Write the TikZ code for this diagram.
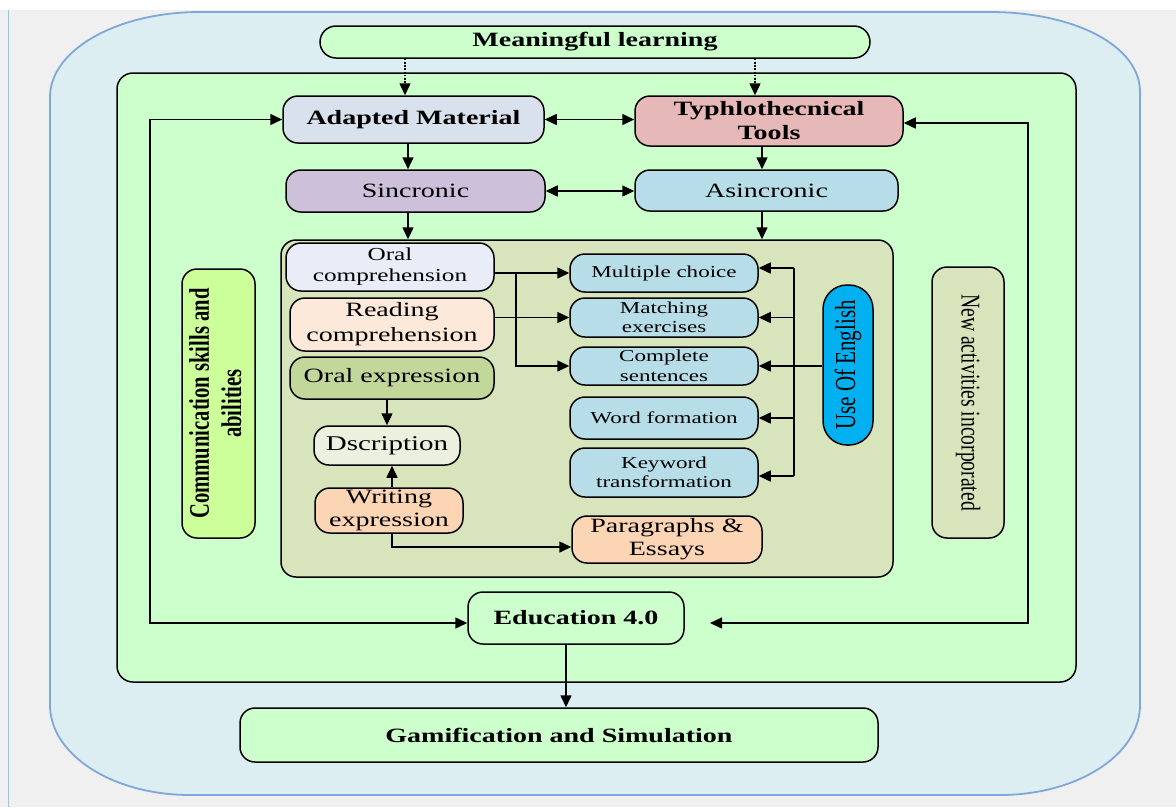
\documentclass[tikz,border=0pt]{standalone}
\usepackage{fontspec}
\setmainfont{Liberation Serif}[FakeStretch=1.38]
\newfontfamily\rotfont{Liberation Serif}
\usetikzlibrary{arrows.meta}
\definecolor{pagegray}{HTML}{F0F0F0}
\definecolor{outerfill}{HTML}{DDEEF3}
\definecolor{outerline}{HTML}{7FA7D9}
\definecolor{lgreen}{HTML}{CCFFCC}
\definecolor{amfill}{HTML}{D9E1EC}
\definecolor{ttfill}{HTML}{E6B9B8}
\definecolor{scfill}{HTML}{CCC0DA}
\definecolor{asfill}{HTML}{B7DEE8}
\definecolor{olive}{HTML}{D8E4BC}
\definecolor{ocfill}{HTML}{E8EDF7}
\definecolor{rcfill}{HTML}{FDE9D9}
\definecolor{oefill}{HTML}{C4D79B}
\definecolor{dsfill}{HTML}{EBF1DE}
\definecolor{wefill}{HTML}{FCD5B4}
\definecolor{uefill}{HTML}{00B0F0}
\definecolor{cmfill}{HTML}{CCFF99}
\begin{document}
\begin{tikzpicture}[x=1pt,y=-1pt,
  box/.style={draw=black, line width=1.5pt, rounded corners=15pt, align=center, inner sep=0pt,
    font=\fontsize{20.3}{24}\selectfont},
  bbox/.style={box, font=\fontsize{20.3}{24}\selectfont\bfseries},
  smallbox/.style={box, fill=asfill, font=\fontsize{16.7}{19.5}\selectfont},
  arr/.style={-{Triangle[length=12pt,width=11pt]}, line width=1.5pt},
  darr/.style={{Triangle[length=12pt,width=11pt]}-{Triangle[length=12pt,width=11pt]}, line width=1.5pt},
  dotarr/.style={arr, dash pattern=on 1.6pt off 1.6pt}]
\useasboundingbox (0,0) rectangle (1176,807);
% page
\fill[pagegray] (0,10) rectangle (1176,807);
\fill[white] (0,0) rectangle (1176,10);
\draw[outerline!70, line width=1pt] (8,10) -- (8,807);
% outer shape
\draw[fill=outerfill, draw=outerline, line width=1.8pt]
  (50,97) .. controls (50,50) and (117,12) .. (200,12)
  -- (990,12) .. controls (1073,12) and (1140,45) .. (1140,92)
  -- (1140,705) .. controls (1140,755) and (1077,795) .. (1000,795)
  -- (190,795) .. controls (113,795) and (50,755) .. (50,705) -- cycle;
% inner green
\draw[fill=lgreen, line width=1.5pt, rounded corners=16pt] (117,73) rectangle (1076,682);
% olive
\node[box, fill=olive, minimum width=612pt, minimum height=337pt] (ob) at (587,408.5) {};

\node[bbox, fill=lgreen, rounded corners=16pt, minimum width=550pt, minimum height=32pt] (ml) at (595,42) {Meaningful learning};
\node[bbox, fill=amfill, minimum width=261pt, minimum height=47pt] (am) at (413.5,119.5) {Adapted Material};
\node[bbox, fill=ttfill, minimum width=268pt, minimum height=50pt] (tt) at (769,121) {Typhlothecnical\\Tools};
\node[box, fill=scfill, minimum width=259pt, minimum height=42pt] (sc) at (415.5,191) {Sincronic};
\node[box, fill=asfill, minimum width=263pt, minimum height=41pt] (as) at (766.5,190.5) {Asincronic};

\node[box, fill=ocfill, minimum width=208pt, minimum height=48pt, font=\fontsize{18.3}{21}\selectfont] (oc) at (390,267) {Oral\\comprehension};
\node[box, fill=rcfill, minimum width=204pt, minimum height=53pt, font=\fontsize{20.3}{25}\selectfont] (rc) at (392,324.5) {Reading\\comprehension};
\node[box, fill=oefill, minimum width=204pt, minimum height=42pt] (oe) at (392,378) {Oral expression};
\node[box, fill=dsfill, minimum width=146pt, minimum height=39pt, font=\fontsize{21}{24}\selectfont] (ds) at (387,445.5) {Dscription};
\node[box, fill=wefill, minimum width=148pt, minimum height=45pt, font=\fontsize{20.3}{23}\selectfont] (we) at (389,510.5) {Writing\\expression};
\node[box, fill=wefill, minimum width=190pt, minimum height=47pt, font=\fontsize{20.3}{23}\selectfont] (pe) at (667,539.5) {Paragraphs \&\\Essays};

\node[smallbox, minimum width=188pt, minimum height=38pt] (mc) at (664,273) {Multiple choice};
\node[smallbox, minimum width=188pt, minimum height=39pt] (me) at (664,317.5) {Matching\\exercises};
\node[smallbox, minimum width=188pt, minimum height=38pt] (cs) at (664,366) {Complete\\sentences};
\node[smallbox, minimum width=188pt, minimum height=42pt] (wf) at (664,418) {Word formation};
\node[smallbox, minimum width=188pt, minimum height=49pt] (kt) at (664,472.5) {Keyword\\transformation};

\node[box, fill=uefill, rounded corners=24pt, minimum width=50pt, minimum height=160pt] (ue) at (848,365)
  {\rotatebox{90}{\scalebox{1}[1.38]{\rotfont\fontsize{21}{24}\selectfont Use Of English}}};
\node[box, fill=cmfill, minimum width=73pt, minimum height=269pt] (cm) at (218.5,403.5)
  {\rotatebox{90}{\scalebox{1}[1.38]{\rotfont\fontsize{20.6}{23.5}\selectfont\bfseries\begin{tabular}{@{}c@{}}Communication skills and\\abilities\end{tabular}}}};
\node[box, fill=olive, minimum width=72pt, minimum height=271pt] (na) at (968,402.5)
  {\rotatebox{-90}{\scalebox{1}[1.38]{\rotfont\fontsize{19.6}{23}\selectfont New activities incorporated}}};

\node[bbox, fill=lgreen, minimum width=216pt, minimum height=52pt] (ed) at (576,618) {Education 4.0};
\node[bbox, fill=lgreen, minimum width=638pt, minimum height=54pt] (gs) at (559,735) {Gamification and Simulation};

% connectors top
\draw[dotarr] ([xshift=-8.5pt]am.north |- ml.south) -- ([xshift=-8.5pt]am.north);
\draw[dotarr] ([xshift=-14pt]tt.north |- ml.south) -- ([xshift=-14pt]tt.north);
\draw[arr] ([xshift=-5.5pt]am.south) -- ([xshift=-5.5pt]am.south |- sc.north);
\draw[arr] ([xshift=-7pt]tt.south) -- ([xshift=-7pt]tt.south |- as.north);
\draw[darr] (am.east) -- (am.east -| tt.west);
\draw[darr] (sc.east) -- (sc.east -| as.west);
\draw[arr] ([xshift=-7.5pt]sc.south) -- ([xshift=-7.5pt]sc.south |- ob.north);
\draw[arr] ([xshift=-4.5pt]as.south) -- ([xshift=-4.5pt]as.south |- ob.north);
% inner connectors
\coordinate (j1) at (516,273);
\draw[arr] (oc.east |- mc.west) -- (mc.west);
\draw[arr] (j1) |- (cs.west);
\draw[arr] (rc.east |- me.west) -- (me.west);
\draw[arr] (ue.west |- cs.east) -- (cs.east);
\coordinate (bt) at (794,268);
\coordinate (bb) at (794,476);
\draw[line width=1.5pt] (bt) -- (bb);
\draw[arr] (bt) -- (bt -| mc.east);
\draw[arr] (bt |- me.east) -- (me.east);
\draw[arr] (bt |- wf.east) -- (wf.east);
\draw[arr] (bb) -- (bb -| kt.east);
\draw[arr] (oe.south -| ds.north) -- (ds.north);
\draw[arr] ([xshift=3pt]we.north) -- ([xshift=3pt]we.north |- ds.south);
\draw[arr] ([xshift=3pt]we.south) |- ([yshift=-7.5pt]pe.west);
% loops
\coordinate (lc) at (150,623);
\draw[darr] (am.west) -| (lc) -- ([yshift=-5pt]ed.west);
\coordinate (rcn) at (1028,623);
\coordinate (edr) at (710,623);
\draw[darr] ([yshift=-2pt]tt.east) -| (rcn) -- (edr);
\draw[arr] ([xshift=-10pt]ed.south) -- ([xshift=-10pt]ed.south |- gs.north);
\end{tikzpicture}
\end{document}
